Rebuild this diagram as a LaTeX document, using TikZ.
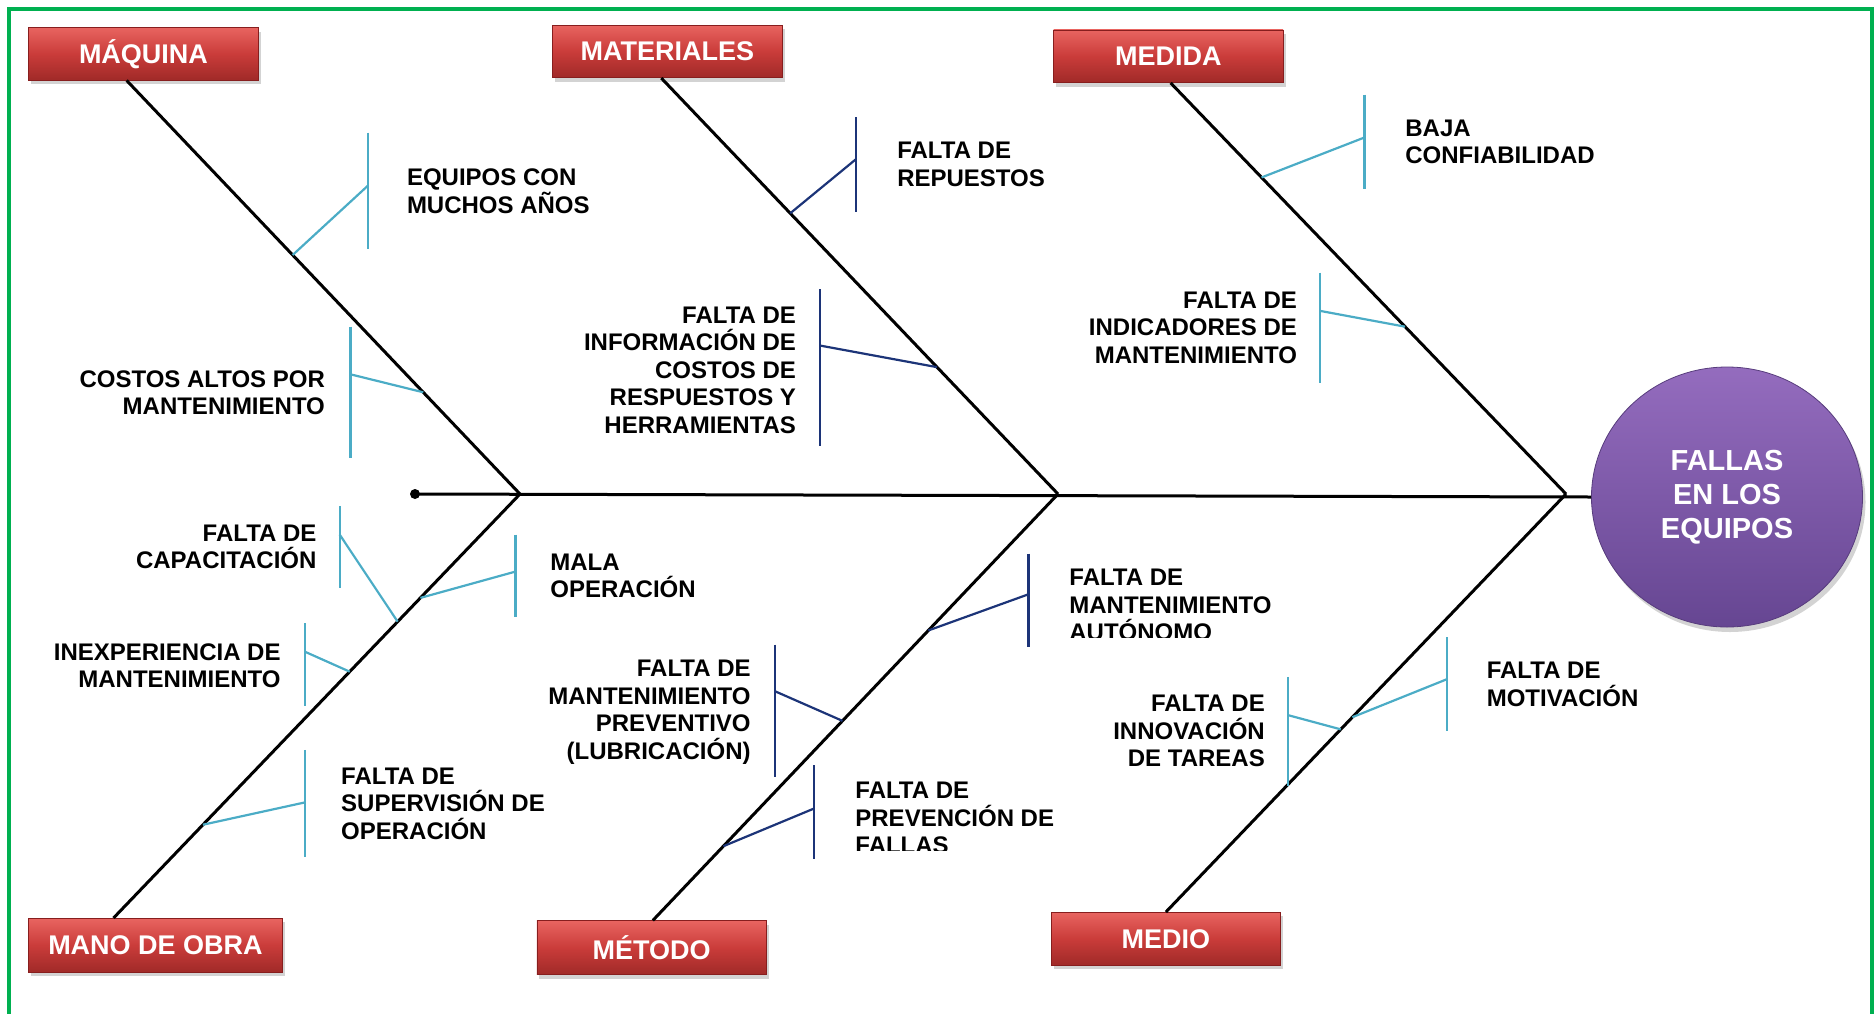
\documentclass[tikz,border=0pt]{standalone}
\usepackage{fontspec}
\setmainfont{Liberation Sans}
\usetikzlibrary{calc,shapes.geometric,shadows}

\definecolor{frame}{RGB}{0,176,80}
\definecolor{causeblue}{RGB}{75,172,198}
\definecolor{causenavy}{RGB}{28,52,120}
\definecolor{hdrtop}{RGB}{232,100,96}
\definecolor{hdrmid}{RGB}{202,60,58}
\definecolor{hdrbot}{RGB}{160,42,40}
\definecolor{hdredge}{RGB}{135,30,30}
\definecolor{efftop}{RGB}{148,108,190}
\definecolor{effbot}{RGB}{102,70,146}
\definecolor{labeltext}{RGB}{0,0,0}

% one cause: attachment point on its bone, a vertical bar and the link between them
% #1 id, #2 bone start, #3 junction, #4 position along the bone,
% #5 bar x, #6 bar top y, #7 bar bottom y, #8 link y on the bar, #9 colour
\newcommand\causebar[9]{%
  \coordinate (#1-on)  at ($(#2)!#4!(#3)$);
  \coordinate (#1-top) at (#5,#6);
  \coordinate (#1-bot) at (#5,#7);
  \coordinate (#1-mid) at (#5,#8);
  \draw[sub,#9] (#1-top) -- (#1-bot);
  \draw[sub,#9] (#1-on) -- (#1-mid);
}

\begin{document}
\begin{tikzpicture}[x=0.5pt,y=-0.5pt,
  header/.style={rectangle, minimum width=114.8pt, minimum height=26.3pt,
    top color=hdrtop, bottom color=hdrbot, middle color=hdrmid,
    draw=hdredge, line width=0.4pt, text=white, inner sep=0pt,
    font=\fontsize{13.5}{15}\selectfont\bfseries,
    drop shadow={shadow xshift=1.2pt, shadow yshift=-2pt, opacity=0.35}},
  effect/.style={ellipse, minimum width=135.5pt, minimum height=130pt,
    top color=efftop, bottom color=effbot, draw=effbot!85!black, line width=0.4pt,
    text=white, align=center, inner sep=0pt,
    font=\fontsize{14.5}{17}\selectfont\bfseries,
    drop shadow={shadow xshift=1.5pt, shadow yshift=-2.5pt, opacity=0.35}},
  bone/.style={line width=1.5pt, black},
  sub/.style={line width=1.1pt},
  lbl/.style={font=\fontsize{12}{13.75}\selectfont\bfseries, inner sep=0pt, text=labeltext},
  lblL/.style={lbl, anchor=west, align=left},
  lblR/.style={lbl, anchor=east, align=right}]

\useasboundingbox (0,0) rectangle (1875,1013);

% frame
\draw[frame, line width=2pt] (9,1020) -- (9,9) -- (1872,9) -- (1872,1020);

% category headers
\node[header] (mq) at (143.5,53.8)  {MÁQUINA};
\node[header] (mt) at (667.3,51.4)  {MATERIALES};
\node[header] (md) at (1168.3,56.2) {MEDIDA};
\node[header, minimum width=126.8pt, minimum height=26.9pt] (mo) at (155.5,945.3) {MANO DE OBRA};
\node[header, minimum height=26.9pt] (me) at (651.7,947.7) {MÉTODO};
\node[header] (mi) at (1165.9,938.7) {MEDIO};

% effect
\node[effect] (ef) at (1727,497) {FALLAS\\EN LOS\\EQUIPOS};

% spine
\node[circle, fill=black, minimum size=5pt, inner sep=0pt] (tail) at (415,494) {};
\coordinate (j1) at (520,494);
\coordinate (j2) at (1058,494);
\coordinate (j3) at (1566,494);
\draw[bone] (tail.center) -- (ef.west);

% bones
\coordinate (q1) at ($(mq.south west)!0.427!(mq.south east)$);
\coordinate (q2) at ($(mt.south west)!0.474!(mt.south east)$);
\coordinate (q3) at ($(md.south west)!0.51!(md.south east)$);
\coordinate (q4) at ($(mo.north west)!0.335!(mo.north east)$);
\coordinate (q5) at ($(me.north west)!0.505!(me.north east)$);
\coordinate (q6) at ($(mi.north west)!0.5!(mi.north east)$);
\draw[bone] (q1) -- (j1);
\draw[bone] (q2) -- (j2);
\draw[bone] (q3) -- (j3);
\draw[bone] (q4) -- (j1);
\draw[bone] (q5) -- (j2);
\draw[bone] (q6) -- (j3);

% causes: MAQUINA
\causebar{c1}{q1}{j1}{0.422}{368.3}{132.7}{248.7}{185.3}{causeblue}
\node[lblL] (t1) at (406.6,191.3) {EQUIPOS CON\\MUCHOS AÑOS};
\causebar{c2}{q1}{j1}{0.754}{350.4}{326.5}{458}{374.3}{causeblue}
\node[lblR] (t2) at (325.3,392.8) {COSTOS ALTOS POR\\MANTENIMIENTO};

% causes: MATERIALES
\causebar{c3}{q2}{j2}{0.325}{856.2}{117.2}{211.7}{159}{causenavy}
\node[lblL] (t3) at (896.9,164.4) {FALTA DE\\REPUESTOS};
\causebar{c4}{q2}{j2}{0.695}{820.3}{289.4}{446}{345.6}{causenavy}
\node[lblR] (t4) at (796.4,370.1) {FALTA DE\\INFORMACIÓN DE\\COSTOS DE\\RESPUESTOS Y\\HERRAMIENTAS};

% causes: MEDIDA
\causebar{c5}{q3}{j3}{0.23}{1364.4}{94.5}{188.9}{137.5}{causeblue}
\node[lblL] (t5) at (1405,141.7) {BAJA\\CONFIABILIDAD};
\causebar{c6}{q3}{j3}{0.593}{1320.2}{272.6}{382.7}{310.9}{causeblue}
\node[lblR] (t6) at (1297.4,327.6) {FALTA DE\\INDICADORES DE\\MANTENIMIENTO};

% causes: MANO DE OBRA
\causebar{c7}{q4}{j1}{0.699}{339.6}{505.8}{588.3}{534.5}{causeblue}
\node[lblR] (t7) at (316.9,547.1) {FALTA DE\\CAPACITACIÓN};
\causebar{c8}{q4}{j1}{0.755}{515.4}{534.5}{617}{571.6}{causeblue}
\node[lblL] (t8) at (550,575.8) {MALA\\OPERACIÓN};
\causebar{c9}{q4}{j1}{0.581}{304.9}{623}{705.5}{651.7}{causeblue}
\node[lblR] (t9) at (281,665.5) {INEXPERIENCIA DE\\MANTENIMIENTO};
\causebar{c10}{q4}{j1}{0.22}{304.9}{749.8}{857.4}{802.4}{causeblue}
\node[lblL] (t10) at (340.8,803.6) {FALTA DE\\SUPERVISIÓN DE\\OPERACIÓN};

% causes: METODO
\causebar{c11}{q5}{j2}{0.68}{1028.4}{553.6}{646.9}{594.3}{causenavy}
\begin{scope}
  \clip (1060,540) rectangle (1300,637.5);
  \node[lblL] (t11) at (1069,605.1) {FALTA DE\\MANTENIMIENTO\\AUTÓNOMO};
\end{scope}
\causebar{c12}{q5}{j2}{0.468}{774.9}{644.5}{777.3}{691.2}{causenavy}
\node[lblR] (t12) at (751,712.1) {FALTA DE\\MANTENIMIENTO\\PREVENTIVO\\(LUBRICACIÓN)};
\causebar{c13}{q5}{j2}{0.174}{814.3}{765.3}{858.6}{808.4}{causenavy}
\begin{scope}
  \clip (845,750) rectangle (1100,850);
  \node[lblL] (t13) at (855,817.9) {FALTA DE\\PREVENCIÓN DE\\FALLAS};
\end{scope}

% causes: MEDIO
\causebar{c14}{q6}{j3}{0.466}{1446.9}{637.4}{730.6}{679.2}{causeblue}
\node[lblL] (t14) at (1486.4,684.6) {FALTA DE\\MOTIVACIÓN};
\causebar{c15}{q6}{j3}{0.437}{1287.9}{676.8}{785.6}{715.1}{causeblue}
\node[lblR] (t15) at (1265.2,731.2) {FALTA DE\\INNOVACIÓN\\DE TAREAS};

\end{tikzpicture}
\end{document}
